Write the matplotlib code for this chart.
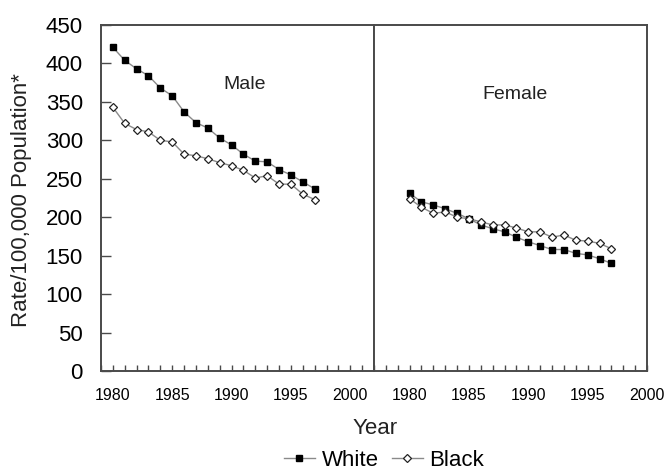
import matplotlib
matplotlib.use("Agg")
import matplotlib.pyplot as plt
from matplotlib.lines import Line2D
from matplotlib.ticker import MultipleLocator

plt.rcParams['font.family'] = ['Liberation Sans', 'DejaVu Sans']

years = list(range(1980, 1998))
male_white = [421, 404, 393, 384, 368, 358, 337, 323, 316, 303, 294, 282, 273, 272, 262, 255, 246, 237]
male_black = [343, 322, 314, 311, 300, 298, 282, 280, 276, 271, 267, 261, 251, 254, 243, 243, 230, 223]
female_white = [231, 220, 216, 211, 205, 198, 190, 185, 181, 174, 168, 163, 158, 158, 153, 151, 146, 140]
female_black = [224, 213, 205, 207, 200, 198, 194, 190, 190, 186, 181, 181, 174, 177, 170, 169, 166, 159]
panel_titles = ["Male", "Female"]
series_names = ["White", "Black"]
yticks = [0, 50, 100, 150, 200, 250, 300, 350, 400, 450]
xticks = [1980, 1985, 1990, 1995, 2000]

W, H = 667, 473
fig = plt.figure(figsize=(W / 100, H / 100), dpi=100)

left_px, right_px, top_px, bot_px = 101, 647, 25, 371
mid_px = (left_px + right_px) / 2
def fx(p): return p / W
def fy(p): return 1 - p / H

ax1 = fig.add_axes([fx(left_px), fy(bot_px), fx(mid_px - left_px), (bot_px - top_px) / H])
ax2 = fig.add_axes([fx(mid_px), fy(bot_px), fx(right_px - mid_px), (bot_px - top_px) / H])

spine_c = '#4a4a4a'
line_c = '#8a8a8a'

def draw(ax, white, black, xlim, title, tpos):
    ax.plot(years, white, color=line_c, lw=1.0, marker='s', ms=4.2,
            mfc='black', mec='black', zorder=3)
    ax.plot(years, black, color=line_c, lw=1.0, marker='D', ms=3.8,
            mfc='white', mec='#222222', mew=0.9, zorder=3)
    ax.set_xlim(*xlim)
    ax.set_ylim(0, 450)
    ax.set_xticks(xticks)
    ax.xaxis.set_minor_locator(MultipleLocator(1))
    ax.tick_params(axis='x', which='both', direction='in', length=4, width=1,
                   color=spine_c, labelsize=11.5, pad=12, top=False)
    for s in ax.spines.values():
        s.set_color(spine_c)
        s.set_linewidth(1.4)
    ax.text(tpos[0], tpos[1], title, fontsize=14, ha='center', va='center', color='#222222')

draw(ax1, male_white, male_black, (1979, 2002), panel_titles[0], (1991.1, 373))
draw(ax2, female_white, female_black, (1977, 2000), panel_titles[1], (1988.9, 359))

ax1.set_yticks(yticks)
ax1.tick_params(axis='y', direction='in', length=7, width=1, color=spine_c,
                labelsize=16, pad=13, right=False)
ax2.set_yticks([])
ax2.tick_params(axis='y', left=False, right=False)

fig.text(fx(22), fy(200), "Rate/100,000 Population*", rotation=90, fontsize=16,
         ha='center', va='center', color='#222222')
fig.text(fx(375), fy(428), "Year", fontsize=16, ha='center', va='center', color='#222222')

handles = [
    Line2D([], [], color=line_c, lw=1.0, marker='s', ms=4.2, mfc='black', mec='black'),
    Line2D([], [], color=line_c, lw=1.0, marker='D', ms=3.8, mfc='white', mec='#222222', mew=0.9),
]
fig.legend(handles, series_names, loc='center', bbox_to_anchor=(fx(384), fy(460)),
           ncol=2, frameon=False, fontsize=16, handlelength=1.4, handletextpad=0.3,
           columnspacing=0.6, borderpad=0)

fig.savefig("out.png", dpi=100)
